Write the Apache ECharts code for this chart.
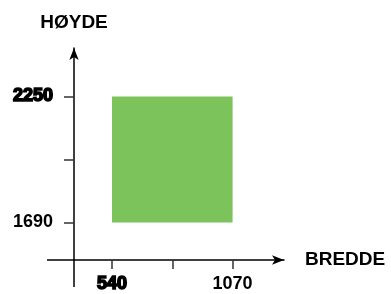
<!DOCTYPE html>
<html lang="en">
<head>
    <meta charset="UTF-8">
    <title>Bredde og høyde</title>
    <script src="https://cdn.jsdelivr.net/npm/echarts@6/dist/echarts.min.js"></script>
    <style>
        html, body { margin: 0; padding: 0; background: #fff; }
        #main { width: 391px; height: 294px; }
    </style>
</head>
<body>
<div id="main"></div>
<script type="text/javascript">
    // data
    var xName = 'BREDDE';
    var yName = 'HØYDE';
    var widthRange = [540, 1070];      // x from / to
    var heightRange = [1690, 2250];    // y from / to
    var xTicks = [540, 805, 1070];
    var yTicks = [1690, 1970, 2250];
    var xLabels = [540, 1070];
    var yLabels = [1690, 2250];

    (function () {
        var chart = echarts.init(document.getElementById('main'));
        var font = 'Liberation Sans, Arial, sans-serif';
        // one label on each axis is drawn extra heavy in the original
        var heavyX = xLabels[0];
        var heavyY = yLabels[yLabels.length - 1];

        function labelStyle() {
            return {
                color: '#000',
                fontFamily: font,
                fontWeight: 'bold',
                fontSize: 18,
                rich: {
                    h: {
                        color: '#000',
                        fontFamily: font,
                        fontWeight: 'bold',
                        fontSize: 18,
                        textBorderColor: '#000',
                        textBorderWidth: 1.6
                    }
                }
            };
        }

        var xLabel = labelStyle();
        xLabel.customValues = xLabels;
        xLabel.margin = 15;
        xLabel.formatter = function (v) { return v === heavyX ? '{h|' + v + '}' : String(v); };

        var yLabel = labelStyle();
        yLabel.customValues = yLabels;
        yLabel.margin = 21;
        yLabel.formatter = function (v) { return v === heavyY ? '{h|' + v + '}' : String(v); };

        var axisLine = {
            show: true,
            symbol: ['none', 'arrow'],
            symbolSize: [7, 12],
            lineStyle: { color: '#000', width: 1.5 }
        };

        var option = {
            animation: false,
            backgroundColor: '#fff',
            grid: { left: 74, right: 107, top: 48, bottom: 34, containLabel: false },
            xAxis: {
                type: 'value',
                min: 373,
                max: 1296,
                name: xName,
                nameLocation: 'end',
                nameGap: 21,
                nameTextStyle: { color: '#000', fontFamily: font, fontWeight: 'bold', fontSize: 19, verticalAlign: 'middle' },
                axisLine: axisLine,
                axisTick: { show: true, inside: false, length: 9, customValues: xTicks, lineStyle: { color: '#333', width: 1.5 } },
                axisLabel: xLabel,
                splitLine: { show: false }
            },
            yAxis: {
                type: 'value',
                min: 1523,
                max: 2465,
                name: yName,
                nameLocation: 'end',
                nameGap: 16,
                nameTextStyle: { color: '#000', fontFamily: font, fontWeight: 'bold', fontSize: 19, align: 'center' },
                axisLine: axisLine,
                axisTick: { show: true, inside: false, length: 10, customValues: yTicks, lineStyle: { color: '#333', width: 1.5 } },
                axisLabel: yLabel,
                splitLine: { show: false }
            },
            series: [{
                type: 'custom',
                data: [[widthRange[0], widthRange[1], heightRange[0], heightRange[1]]],
                renderItem: function (params, api) {
                    var p0 = api.coord([api.value(0), api.value(3)]);
                    var p1 = api.coord([api.value(1), api.value(2)]);
                    return {
                        type: 'rect',
                        shape: { x: p0[0], y: p0[1], width: p1[0] - p0[0], height: p1[1] - p0[1] },
                        style: { fill: '#7dc35c' }
                    };
                }
            }]
        };

        chart.setOption(option);

        // the axes stick out a little past where they cross
        var o = chart.convertToPixel({ gridIndex: 0 }, [option.xAxis.min, option.yAxis.min]);
        chart.setOption({
            graphic: [
                { type: 'line', shape: { x1: o[0] - 27, y1: o[1], x2: o[0], y2: o[1] }, style: { stroke: '#000', lineWidth: 1.5 } },
                { type: 'line', shape: { x1: o[0], y1: o[1], x2: o[0], y2: o[1] + 27 }, style: { stroke: '#000', lineWidth: 1.5 } }
            ]
        });
    })();
</script>
</body>
</html>
